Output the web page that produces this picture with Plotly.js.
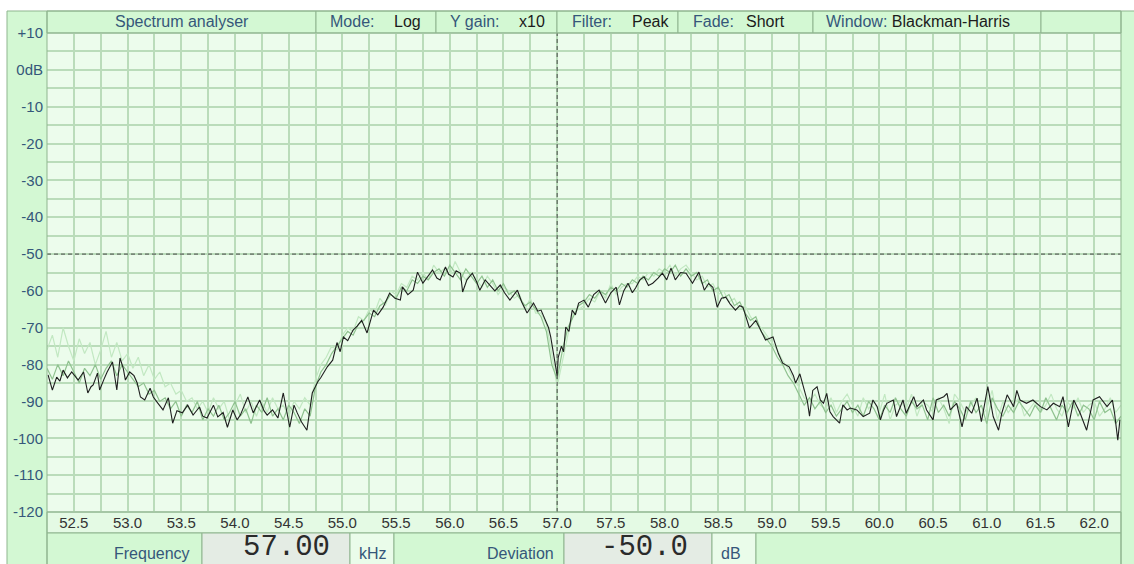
<!DOCTYPE html>
<html><head><meta charset="utf-8">
<script src="https://cdn.plot.ly/plotly-3.0.1.min.js"></script>
<style>html,body{margin:0;padding:0;background:#fff;overflow:hidden}#chart{width:1134px;height:564px}</style>
</head><body><div id="chart"></div>
<script>
// ---------- data ----------
const traceFreq = [52.26,52.30,52.34,52.37,52.40,52.44,52.48,52.51,52.54,52.59,52.63,52.66,52.68,52.72,52.74,52.78,52.81,52.86,52.88,52.90,
52.93,52.96,52.98,53.02,53.06,53.09,53.12,53.16,53.21,53.24,53.28,53.33,53.38,53.42,53.46,53.51,53.56,53.61,53.67,53.70,
53.74,53.80,53.84,53.89,53.93,53.98,54.02,54.05,54.12,54.17,54.23,54.27,54.30,54.35,54.40,54.45,54.51,54.55,54.58,54.62,
54.67,54.72,54.77,54.80,54.86,54.89,54.91,54.95,54.98,55.01,55.05,55.10,55.14,55.18,55.23,55.29,55.33,55.38,55.44,55.49,
55.54,55.56,55.61,55.66,55.70,55.75,55.80,55.84,55.88,55.91,55.96,55.99,56.03,56.06,56.10,56.12,56.16,56.21,56.25,56.28,
56.33,56.37,56.42,56.47,56.51,56.56,56.63,56.67,56.72,56.78,56.82,56.85,56.89,56.92,56.94,56.97,56.99,57.00,57.01,57.04,
57.06,57.08,57.11,57.14,57.17,57.20,57.25,57.29,57.34,57.39,57.45,57.50,57.55,57.58,57.62,57.66,57.70,57.73,57.77,57.81,
57.85,57.89,57.94,57.98,58.02,58.06,58.10,58.15,58.20,58.26,58.32,58.37,58.41,58.45,58.49,58.53,58.57,58.61,58.66,58.70,
58.73,58.79,58.85,58.90,58.94,59.01,59.06,59.10,59.16,59.20,59.22,59.26,59.29,59.33,59.35,59.38,59.42,59.45,59.48,59.51,
59.54,59.57,59.60,59.63,59.66,59.70,59.73,59.79,59.85,59.91,59.94,59.98,60.01,60.04,60.07,60.13,60.16,60.22,60.25,60.32,
60.35,60.41,60.44,60.50,60.53,60.60,60.63,60.66,60.72,60.77,60.81,60.86,60.91,60.95,61.01,61.06,61.11,61.14,61.19,61.25,
61.28,61.31,61.37,61.43,61.50,61.56,61.62,61.68,61.71,61.76,61.81,61.87,61.93,61.99,62.05,62.12,62.17,62.19,62.22,62.24];
const traceLevel = [-82.8,-86.9,-83.4,-84.5,-81.5,-83.6,-82.0,-83.0,-84.2,-82.0,-87.7,-86.0,-85.5,-82.3,-86.9,-84.0,-82.0,-79.3,-83.5,-86.9,
-78.2,-81.0,-84.2,-82.0,-83.0,-85.0,-88.8,-89.6,-86.4,-88.8,-90.4,-92.3,-89.0,-95.9,-92.5,-93.1,-91.0,-93.7,-91.5,-94.0,
-94.5,-91.0,-94.2,-93.0,-97.0,-92.3,-95.0,-93.7,-88.8,-93.1,-89.6,-92.5,-93.7,-92.3,-94.5,-87.7,-97.0,-91.0,-93.1,-95.6,
-97.8,-87.7,-84.7,-83.5,-80.6,-79.6,-78.8,-74.0,-76.5,-72.5,-73.5,-70.6,-69.5,-68.0,-71.4,-65.2,-66.5,-64.4,-60.6,-62.0,
-62.5,-58.9,-61.0,-59.8,-54.9,-57.9,-56.0,-54.3,-56.5,-57.0,-53.5,-55.5,-56.2,-54.5,-55.2,-60.3,-57.0,-55.2,-57.5,-59.8,
-57.0,-58.4,-60.0,-58.4,-60.5,-62.5,-59.8,-63.0,-66.0,-63.3,-65.5,-65.2,-68.0,-70.0,-72.5,-78.0,-81.5,-83.0,-78.0,-75.0,
-76.5,-69.8,-71.0,-65.2,-66.5,-63.3,-62.5,-64.4,-61.0,-59.8,-63.3,-60.5,-59.0,-63.8,-60.0,-57.9,-60.5,-59.2,-57.0,-56.2,
-58.5,-57.9,-56.5,-55.2,-57.0,-53.8,-57.0,-55.0,-55.2,-57.9,-54.9,-59.8,-58.0,-59.0,-64.4,-62.0,-61.7,-63.5,-65.2,-64.0,
-64.4,-70.0,-68.0,-71.0,-73.3,-72.5,-77.0,-79.6,-80.6,-83.0,-85.0,-82.5,-86.0,-90.0,-94.0,-87.0,-86.0,-89.6,-90.5,-87.8,
-92.8,-94.1,-95.0,-95.9,-90.9,-92.3,-91.8,-92.3,-94.1,-93.2,-89.6,-91.4,-95.0,-92.3,-90.5,-89.6,-94.1,-89.6,-93.2,-88.7,
-91.4,-89.6,-92.3,-95.0,-89.6,-88.7,-87.8,-92.3,-90.5,-96.9,-91.4,-93.2,-89.1,-95.5,-86.0,-94.1,-97.8,-93.2,-88.2,-91.4,
-87.0,-89.6,-90.5,-89.6,-91.4,-92.3,-90.5,-91.4,-88.7,-96.9,-89.6,-93.2,-97.8,-89.6,-88.7,-91.4,-89.6,-93.2,-100.5,-95.0];

// faded history sweeps (sampled every 0.05 kHz)
const fadeFreq = [52.25,52.30,52.35,52.40,52.45,52.50,52.55,52.60,52.65,52.70,52.75,52.80,52.85,52.90,52.95,53.00,53.05,53.10,53.15,53.20,
53.25,53.30,53.35,53.40,53.45,53.50,53.55,53.60,53.65,53.70,53.75,53.80,53.85,53.90,53.95,54.00,54.05,54.10,54.15,54.20,
54.25,54.30,54.35,54.40,54.45,54.50,54.55,54.60,54.65,54.70,54.75,54.80,54.85,54.90,54.95,55.00,55.05,55.10,55.15,55.20,
55.25,55.30,55.35,55.40,55.45,55.50,55.55,55.60,55.65,55.70,55.75,55.80,55.85,55.90,55.95,56.00,56.05,56.10,56.15,56.20,
56.25,56.30,56.35,56.40,56.45,56.50,56.55,56.60,56.65,56.70,56.75,56.80,56.85,56.90,56.95,57.00,57.05,57.10,57.15,57.20,
57.25,57.30,57.35,57.40,57.45,57.50,57.55,57.60,57.65,57.70,57.75,57.80,57.85,57.90,57.95,58.00,58.05,58.10,58.15,58.20,
58.25,58.30,58.35,58.40,58.45,58.50,58.55,58.60,58.65,58.70,58.75,58.80,58.85,58.90,58.95,59.00,59.05,59.10,59.15,59.20,
59.25,59.30,59.35,59.40,59.45,59.50,59.55,59.60,59.65,59.70,59.75,59.80,59.85,59.90,59.95,60.00,60.05,60.10,60.15,60.20,
60.25,60.30,60.35,60.40,60.45,60.50,60.55,60.60,60.65,60.70,60.75,60.80,60.85,60.90,60.95,61.00,61.05,61.10,61.15,61.20,
61.25,61.30,61.35,61.40,61.45,61.50,61.55,61.60,61.65,61.70,61.75,61.80,61.85,61.90,61.95,62.00,62.05,62.10,62.15,62.20,62.25];
const fadeLevelA = [-81,-84,-80,-83,-79,-82,-85,-81,-83,-80,-84,-81,-79,-83,-80,-82,-84,-86,-85,-88,
-87,-90,-89,-92,-90,-94,-91,-93,-90,-95,-92,-94,-91,-95,-93,-90,-94,-92,-96,-91,
-93,-89,-94,-92,-95,-91,-93,-96,-92,-94,-86,-82,-80,-77,-75,-73,-71,-72,-69,-68,
-66,-67,-64,-63,-61,-62,-59,-60,-57,-58,-56,-57,-55,-54,-56,-53,-55,-57,-54,-56,
-58,-56,-59,-57,-60,-58,-61,-60,-62,-64,-63,-65,-67,-71,-80,-84,-76,-70,-67,-64,
-63,-61,-62,-60,-61,-59,-60,-58,-59,-57,-58,-56,-57,-55,-56,-54,-55,-53,-56,-54,
-56,-55,-58,-57,-60,-59,-62,-61,-64,-63,-66,-68,-67,-71,-73,-75,-78,-80,-83,-85,
-88,-91,-89,-92,-90,-93,-91,-94,-92,-90,-93,-91,-94,-90,-92,-95,-91,-93,-89,-92,
-94,-90,-92,-91,-95,-89,-93,-91,-94,-90,-92,-95,-90,-93,-91,-96,-89,-92,-94,-91,
-93,-90,-92,-94,-91,-93,-89,-92,-95,-91,-93,-90,-94,-91,-92,-95,-90,-93,-92,-96,-94];
const fadeLevelB = [-76,-72,-78,-70,-75,-79,-73,-77,-74,-80,-76,-71,-78,-74,-79,-77,-81,-78,-83,-80,
-84,-82,-86,-85,-88,-87,-90,-89,-92,-90,-93,-89,-92,-90,-95,-91,-88,-93,-90,-94,
-90,-93,-89,-92,-91,-94,-90,-92,-89,-91,-84,-80,-78,-75,-76,-72,-70,-71,-67,-68,
-65,-66,-62,-64,-60,-61,-58,-59,-56,-57,-55,-57,-53,-55,-54,-56,-52,-55,-57,-55,
-57,-59,-56,-58,-61,-59,-60,-62,-61,-65,-62,-66,-66,-69,-77,-86,-79,-72,-66,-65,
-64,-62,-63,-60,-62,-58,-61,-59,-58,-58,-56,-57,-55,-56,-54,-55,-53,-56,-54,-53,
-55,-57,-56,-59,-58,-61,-60,-63,-62,-65,-64,-67,-69,-70,-72,-74,-76,-79,-81,-84,
-86,-89,-90,-88,-91,-92,-89,-93,-90,-88,-91,-94,-89,-92,-90,-93,-88,-95,-91,-90,
-92,-88,-94,-90,-91,-93,-89,-92,-96,-88,-90,-93,-91,-89,-94,-92,-87,-95,-90,-93,
-91,-89,-94,-92,-90,-93,-91,-88,-92,-94,-90,-92,-89,-93,-91,-90,-94,-92,-89,-93,-91];

// cursor readouts
const cursorFreq = 57.00;   // kHz
const cursorLevel = -50.0;  // dB

// axis ticks
const xTickVals = [52.25,52.5,52.75,53,53.25,53.5,53.75,54,54.25,54.5,54.75,55,55.25,55.5,55.75,56,56.25,56.5,56.75,57,
57.25,57.5,57.75,58,58.25,58.5,58.75,59,59.25,59.5,59.75,60,60.25,60.5,60.75,61,61.25,61.5,61.75,62,62.25];
const xTickText = ['','52.5','','53.0','','53.5','','54.0','','54.5','','55.0','','55.5','','56.0','','56.5','','57.0',
'','57.5','','58.0','','58.5','','59.0','','59.5','','60.0','','60.5','','61.0','','61.5','','62.0',''];
const yTickVals = [10,5,0,-5,-10,-15,-20,-25,-30,-35,-40,-45,-50,-55,-60,-65,-70,-75,-80,-85,-90,-95,-100,-105,-110,-115,-120];
const yTickText = ['+10','','0dB','','-10','','-20','','-30','','-40','','-50','','-60','','-70','','-80','','-90','','-100','','-110','','-120'];

// header texts
const headerTitle = 'Spectrum analyser';
const headerItems = [
  {label:'Mode:', value:'Log'},
  {label:'Y gain:', value:'x10'},
  {label:'Filter:', value:'Peak'},
  {label:'Fade:', value:'Short'},
  {label:'Window:', value:'Blackman-Harris'}
];

// ---------- styling / geometry ----------
const L=47, R=1121, T=33, B=512;
const px = p => (p-L)/(R-L);
const py = p => (B-p)/(B-T);
const FONT = 'Liberation Sans, Arial, sans-serif';
const panel = '#d3f8d3', plotBg = '#ecfcec', axisRow = '#e4fae4', grid = '#badcba', border = '#8fb58f';
const blue = '#35577a', dark = '#1c1c1c', lcdBg = '#e4ece4', unitBg = '#eafcea';

function rect(x0,y0,x1,y1,fill,line,layer){
  return {type:'rect', xref:'paper', yref:'paper', x0:px(x0), x1:px(x1), y0:py(y1), y1:py(y0),
    fillcolor:fill||'rgba(0,0,0,0)', line:{color:line||'rgba(0,0,0,0)', width: line?1:0}, layer:layer||'below'};
}
function vline(x,y0,y1){ return {type:'line', xref:'paper', yref:'paper', x0:px(x), x1:px(x), y0:py(y0), y1:py(y1), line:{color:border,width:1}, layer:'above'}; }
function hline(x0,x1,y){ return {type:'line', xref:'paper', yref:'paper', x0:px(x0), x1:px(x1), y0:py(y), y1:py(y), line:{color:border,width:1}, layer:'above'}; }
function txt(text,x,y,o){ return Object.assign({text:text, xref:'paper', yref:'paper', x:px(x), y:py(y), showarrow:false,
  xanchor:'left', yanchor:'middle', font:{family:FONT, size:16, color:blue}}, o||{}); }

const lcdFont = {family:'Liberation Mono, monospace', size:29, color:'#2a2a2a'};
const shapes = [
  // side columns
  rect(7,11,47,600,panel), rect(1121,11,1134,600,panel),
  // header cells
  rect(47,11,316,33,panel,border), rect(316,11,436,33,panel,border), rect(436,11,557,33,panel,border),
  rect(557,11,678,33,panel,border), rect(678,11,813,33,panel,border), rect(813,11,1041,33,panel,border),
  rect(1041,11,1121,33,panel,border),
  // x label row
  rect(47,512,1121,533,axisRow,border),
  // bottom read-out row
  rect(47,533,202,600,panel,border), rect(202,533,350,600,lcdBg,border), rect(350,533,394,600,unitBg,border),
  rect(394,533,564,600,panel,border), rect(564,533,712,600,lcdBg,border), rect(712,533,756,600,unitBg,border),
  rect(756,533,1121,600,panel,border),
  // cursors
  {type:'line', xref:'x', yref:'paper', x0:cursorFreq, x1:cursorFreq, y0:0, y1:1, line:{color:'#4a4a4a', width:1, dash:'4px,3px'}, layer:'above'},
  {type:'line', xref:'paper', yref:'y', x0:0, x1:1, y0:cursorLevel, y1:cursorLevel, line:{color:'#4a4a4a', width:1, dash:'4px,3px'}, layer:'above'},
  // frames
  vline(47,11,564), vline(1121,11,564), hline(47,1121,33), hline(47,1121,512), hline(7,1134,11), vline(7,11,564)
];

const annotations = [
  txt(headerTitle, 182, 22, {xanchor:'center'}),
  txt(headerItems[0].label, 328, 22), txt(headerItems[0].value, 423, 22, {xanchor:'right', font:{family:FONT,size:16,color:dark}}),
  txt(headerItems[1].label, 448, 22), txt(headerItems[1].value, 547, 22, {xanchor:'right', font:{family:FONT,size:16,color:dark}}),
  txt(headerItems[2].label, 570, 22), txt(headerItems[2].value, 671, 22, {xanchor:'right', font:{family:FONT,size:16,color:dark}}),
  txt(headerItems[3].label, 691, 22), txt(headerItems[3].value, 744, 22, {font:{family:FONT,size:16,color:dark}}),
  txt(headerItems[4].label + ' <span style="color:'+dark+'">' + headerItems[4].value + '</span>', 824, 22),
  // bottom readouts
  txt('Frequency', 192, 564, {xanchor:'right', yanchor:'bottom'}),
  txt(cursorFreq.toFixed(2), 286, 565, {xanchor:'center', yanchor:'bottom', borderpad:0, font:lcdFont}),
  txt('kHz', 357, 564, {yanchor:'bottom'}),
  txt('Deviation', 556, 564, {xanchor:'right', yanchor:'bottom'}),
  txt(cursorLevel.toFixed(1), 644, 565, {xanchor:'center', yanchor:'bottom', borderpad:0, font:lcdFont}),
  txt('dB', 719, 564, {yanchor:'bottom'})
];

const data = [
  {x:fadeFreq, y:fadeLevelB, type:'scatter', mode:'lines', line:{color:'#c2e8c2', width:1.2}, hoverinfo:'skip'},
  {x:fadeFreq, y:fadeLevelA, type:'scatter', mode:'lines', line:{color:'#8fc28f', width:1.2}, hoverinfo:'skip'},
  {x:traceFreq, y:traceLevel, type:'scatter', mode:'lines', line:{color:'#1e1e1e', width:1.1}, hoverinfo:'skip'}
];

const layout = {
  width:1134, height:564,
  margin:{l:L, r:1134-R, t:T, b:564-B, pad:0},
  paper_bgcolor:'#ffffff', plot_bgcolor:plotBg,
  showlegend:false,
  xaxis:{range:[52.25,62.25], tickmode:'array', tickvals:xTickVals, ticktext:xTickText, ticks:'',
    showgrid:true, gridcolor:grid, gridwidth:2, zeroline:false, showline:false,
    tickfont:{family:FONT, size:15, color:'#333333'}, fixedrange:true},
  yaxis:{range:[-120,10], tickmode:'array', tickvals:yTickVals, ticktext:yTickText, ticks:'', ticklabelstandoff:3,
    showgrid:true, gridcolor:grid, gridwidth:2, zeroline:false, showline:false,
    tickfont:{family:FONT, size:15, color:blue}, fixedrange:true},
  shapes:shapes, annotations:annotations
};

Plotly.newPlot('chart', data, layout, {displayModeBar:false, staticPlot:true});
</script></body></html>
